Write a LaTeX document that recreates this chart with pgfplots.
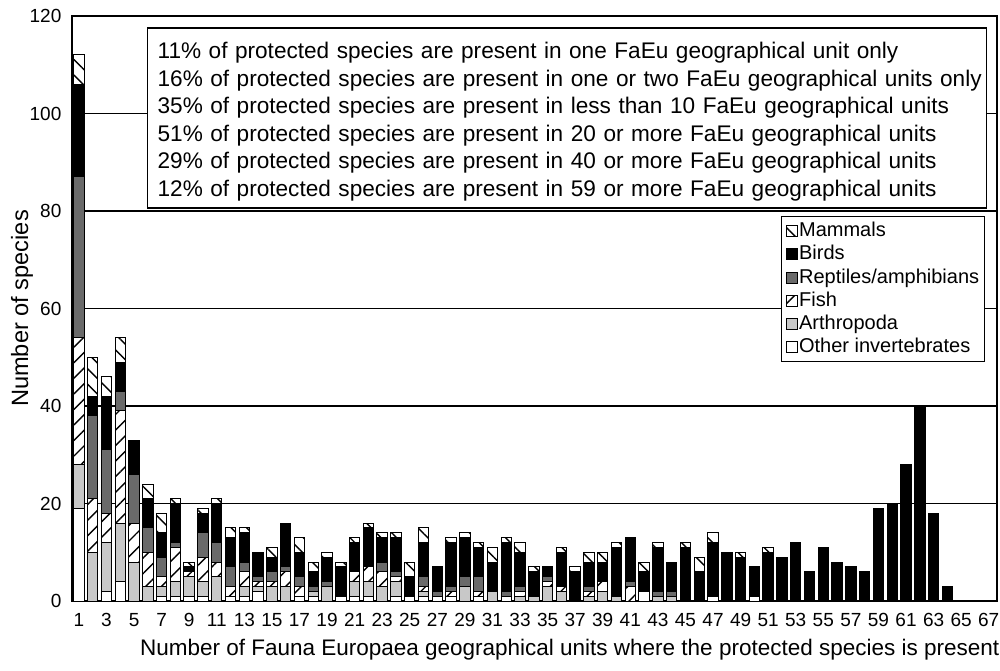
\documentclass[border=0pt]{standalone}
\usepackage{fontspec}
\setmainfont{Liberation Sans}
\usepackage{pgfplots}
\usepackage{pgfplotstable}
\pgfplotsset{compat=1.18}
\usetikzlibrary{patterns.meta}

% Protected species by number of FaEu geographical units (stacked by group)
% columns: units, other invertebrates, arthropoda, fish, reptiles/amphibians, birds, mammals
\pgfplotstableread{
x  oi ar fi re bi ma
1  19  9 26 33 19  6
2   0 10 11 17  4  8
3   2 10  6 13 11  4
4   4 12 23  4  6  5
5   0  8  8 10  7  0
6   0  3  7  5  6  3
7   1  2  2  4  5  4
8   1  3  7  1  8  1
9   1  4  1  0  1  1
10  1  3  5  5  4  1
11  0  5  3  4  8  1
12  1  0  2  4  6  2
13  1  2  3  2  6  1
14  2  1  1  1  5  0
15  0  3  1  2  3  2
16  0  3  3  1  9  0
17  1  0  2  2  5  3
18  1  1  0  1  3  2
19  0  3  0  1  5  1
20  1  0  0  0  6  1
21  1  3  2  0  6  1
22  1  3  3  0  8  1
23  0  3  3  2  5  1
24  1  3  1  1  7  1
25  1  0  0  0  4  3
26  1  1  1  2  7  3
27  1  0  0  1  5  0
28  1  0  1  1  9  1
29  0  3  0  2  8  1
30  1  0  1  3  6  1
31  0  2  0  0  6  3
32  1  0  0  1 10  1
33  0  1  1  1  7  2
34  0  1  0  0  5  1
35  0  3  1  1  2  0
36  0  2  1  0  7  1
37  0  0  0  0  6  1
38  0  1  1  1  5  2
39  0  2  2  0  4  2
40  0  1  0  0 10  1
41  0  0  3  1  9  0
42  2  0  0  0  4  2
43  0  1  0  1  9  1
44  0  1  0  1  6  0
45  0  0  0  0 11  1
46  0  0  0  0  6  3
47  1  0  0  0 11  2
48  0  0  0  0 10  0
49  0  0  0  0  9  1
50  1  0  0  0  6  0
51  0  0  0  0 10  1
52  0  0  0  0  9  0
53  0  0  0  0 12  0
54  0  0  0  0  6  0
55  0  0  0  0 11  0
56  0  0  0  0  8  0
57  0  0  0  0  7  0
58  0  0  0  0  6  0
59  0  0  0  0 19  0
60  0  0  0  0 20  0
61  0  0  0  0 28  0
62  0  0  0  0 40  0
63  0  0  0  0 18  0
64  0  0  0  0  3  0
}\units

\definecolor{reptgray}{HTML}{6A6A6A}
\definecolor{arthgray}{HTML}{C8C8C8}

\pgfplotsset{
  legsq/.style={legend image code/.code={%
      \draw[##1,line width=0.5pt] (0pt,-2.75pt) rectangle (5.5pt,2.75pt);}},
  segment/.style={ybar stacked, bar width=0.76, draw=black, line width=0.5pt, legsq},
  fwd hatch/.style={fill=white,
      postaction={pattern={Lines[angle=45,distance=5.5pt,line width=0.7pt]},pattern color=black}},
  back hatch/.style={fill=white,
      postaction={pattern={Lines[angle=-45,distance=5.5pt,line width=0.7pt]},pattern color=black}},
}

\begin{document}
\begin{tikzpicture}
\useasboundingbox (-36pt,-34.5pt) rectangle (464pt,300.5pt);
\begin{axis}[
  scale only axis,
  width=462.5pt, height=292.5pt,
  xmin=0.5, xmax=67.6, ymin=0, ymax=120,
  ybar stacked, bar width=0.76,
  xtick={1,3,...,67}, ytick={0,20,...,120},
  ymajorgrids,
  major grid style={black, line width=0.6pt},
  major tick length=0pt,
  axis line style={black, line width=0.7pt},
  tick label style={font=\fontsize{9.5}{11}\selectfont},
  /pgf/number format/assume math mode=true,
  xticklabel style={yshift=-2.5pt},
  yticklabel style={xshift=-1.8pt},
  xlabel={Number of Fauna Europaea geographical units where the protected species is present},
  ylabel={Number of species},
  every axis x label/.style={at={(axis description cs:0.538,0)}, anchor=center,
    yshift=-24.5pt, font=\fontsize{11.25}{13}\selectfont},
  every axis y label/.style={at={(axis description cs:-0.054,0.5)}, rotate=90,
    anchor=center, font=\fontsize{11.8}{13}\selectfont},
  reverse legend,
  legend cell align=left,
  legend style={at={(0.987,0.658)}, anchor=north east, draw=black, line width=0.6pt,
    fill=white, font=\fontsize{10}{11.5}\selectfont, inner xsep=2pt, inner ysep=2pt,
    row sep=1pt,
    nodes={inner sep=0.6pt, text height=7.4pt, text depth=2pt}},
]
\addplot[segment, fill=white] table[x=x, y=oi] {\units};
\addlegendentry{Other invertebrates}
\addplot[segment, fill=arthgray] table[x=x, y=ar] {\units};
\addlegendentry{Arthropoda}
\addplot[segment, fwd hatch] table[x=x, y=fi] {\units};
\addlegendentry{Fish}
\addplot[segment, fill=reptgray] table[x=x, y=re] {\units};
\addlegendentry{Reptiles/amphibians}
\addplot[segment, fill=black] table[x=x, y=bi] {\units};
\addlegendentry{Birds}
\addplot[segment, back hatch] table[x=x, y=ma] {\units};
\addlegendentry{Mammals}

% summary box
\node[anchor=north west, draw=black, line width=0.7pt, fill=white, align=left,
  text width=409.5pt, inner xsep=5pt, inner ysep=0pt, minimum height=90pt,
  font=\fontsize{11.3}{13.75}\selectfont] at (rel axis cs:0.081,0.981)
{\mbox{\rule{0pt}{11.85pt}11\% of protected species are present in one FaEu geographical unit only}\\
\mbox{16\% of protected species are present in one or two FaEu geographical units only}\\
\mbox{35\% of protected species are present in less than 10 FaEu geographical units}\\
\mbox{51\% of protected species are present in 20 or more FaEu geographical units}\\
\mbox{29\% of protected species are present in 40 or more FaEu geographical units}\\
\mbox{12\% of protected species are present in 59 or more FaEu geographical units}};
\end{axis}
\end{tikzpicture}
\end{document}
